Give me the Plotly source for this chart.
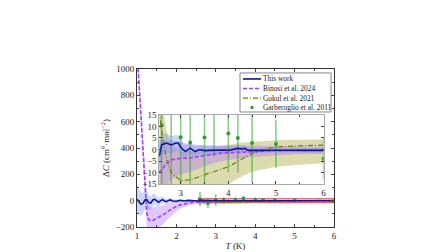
import plotly.graph_objects as go

# ---------------- data ----------------
# This work
tw_T = [1.0, 1.05, 1.1, 1.15, 1.2, 1.25, 1.3, 1.35, 1.4, 1.45, 1.5, 1.55, 1.6, 1.65, 1.7, 1.75, 1.8,
        1.85, 1.9, 2.0, 2.1, 2.2, 2.3, 2.4, 2.5, 2.55, 2.6, 2.7, 2.8, 2.9, 2.95, 3.0, 3.05, 3.1,
        3.2, 3.3, 3.4, 3.5, 3.6, 3.7, 3.8, 3.9, 4.0, 4.1, 4.2, 4.3, 4.35, 4.4, 4.5, 5.0, 5.5, 6.0]
tw_val = [10, -5, -28, -20, 5, 8, -15, -18, 5, 10, -5, -12, 0, 8, -3, -8, 2,
          6, -2, -4, 3, -2, 2, -1, 1, -3, 2, 2.8, 2.0, 2.8, 2.8, 1.0, -0.1, -0.9,
          0.6, -0.9, 0.0, -0.5, -0.4, -0.3, -0.5, -0.2, -0.4, 0.0, 0.5, 0.2, 0.5, -0.3, -0.4, -0.3, -0.4, -0.4]
tw_err = [110, 100, 90, 80, 70, 62, 55, 50, 45, 40, 35, 31, 28, 25, 22, 20, 18,
          16, 14, 11, 9.5, 8, 7, 6.5, 6, 5, 4.5, 4.2, 3.8, 3.5, 3.4, 3.2, 3.0, 2.8,
          2.5, 2.3, 2.1, 2.0, 1.9, 1.8, 1.7, 1.6, 1.5, 1.4, 1.4, 1.3, 1.3, 1.2, 1.2, 1.0, 0.95, 0.9]

# Binosi et al. 2024
bi_T = [1.0, 1.03, 1.06, 1.09, 1.13, 1.17, 1.21, 1.25, 1.3, 1.35, 1.4, 1.5, 1.6, 1.7, 1.8, 1.9,
        2.0, 2.1, 2.2, 2.3, 2.4, 2.5, 2.55, 2.6, 2.7, 2.8, 3.0, 3.2, 3.4, 3.6, 3.8, 4.0, 4.5, 5.0, 5.5, 6.0]
bi_val = [1050, 1000, 850, 690, 450, 250, 30, -100, -145, -155, -150, -134, -118, -100, -78, -58,
          -43, -32, -24, -18, -13, -10, -9.6, -9, -6, -4.5, -3.8, -3.7, -3.0, -2.3, -1.7, -1.4, -0.8, -0.5, -0.4, -0.3]
bi_err = [60, 65, 70, 75, 80, 90, 100, 105, 105, 105, 100, 90, 80, 68, 58, 48,
          38, 30, 24, 19, 16, 14, 13.5, 13, 10, 8.5, 7, 6, 5, 4.2, 3.6, 3.2, 2.5, 2.0, 1.7, 1.5]

# Gokul et al. 2021
go_T = [2.55, 2.6, 2.7, 2.8, 3.0, 3.2, 3.5, 4.0, 4.3, 4.5, 4.8, 5.0, 5.5, 6.0]
go_val = [17, 8, -4, -10, -13.5, -13.2, -11, -7.5, -4, -1.7, 0.3, 1.1, 1.6, 1.9]
go_hi = [30, 22, 8, 2, -1, -1, 0, 2, 3, 3.3, 3.8, 4.0, 4.2, 4.3]
go_lo = [-30, -30, -30, -30, -30, -28, -24, -15, -11.5, -9.7, -8.2, -7.5, -6.6, -6.0]

# Garberoglio et al. 2011
ga_T = [2.6, 2.8, 3.0, 3.2, 3.5, 3.7, 4.0, 4.2, 4.5, 5.0, 6.0]
ga_val = [10.5, -17, 5.3, 3.0, 5.2, 17, 7.0, 5.0, 2.8, 2.4, -4.0]
ga_err = [55, 38, 45, 25, 25, 20, 17, 15, 17, 10.5, 9]

# legend labels
names = ["This work", "Binosi et al. 2024", "Gokul et al. 2021", "Garberoglio et al. 2011"]

BLUE = "#14148f"
PURPLE = "#a040ff"
OLIVE = "#7a7a00"
GREEN = "#2ea02e"
DASH = "4px,2px"
DASHDOT = "5px,2px,1px,2px"

FONT = "Liberation Serif"

fig = go.Figure()


def band(T, lo, hi, color, xa, ya):
    fig.add_trace(go.Scatter(x=T, y=hi, mode="lines", line=dict(width=0), showlegend=False,
                             hoverinfo="skip", xaxis=xa, yaxis=ya))
    fig.add_trace(go.Scatter(x=T, y=lo, mode="lines", line=dict(width=0), fill="tonexty",
                             fillcolor=color, showlegend=False, hoverinfo="skip", xaxis=xa, yaxis=ya))


def all_traces(xa, ya):
    tw_lo = [v - e for v, e in zip(tw_val, tw_err)]
    tw_hi = [v + e for v, e in zip(tw_val, tw_err)]
    bi_lo = [v - e for v, e in zip(bi_val, bi_err)]
    bi_hi = [v + e for v, e in zip(bi_val, bi_err)]
    band(go_T, go_lo, go_hi, "rgba(160,160,40,0.38)", xa, ya)
    band(bi_T, bi_lo, bi_hi, "rgba(175,110,255,0.38)", xa, ya)
    band(tw_T, tw_lo, tw_hi, "rgba(110,140,255,0.35)", xa, ya)
    fig.add_trace(go.Scatter(x=ga_T, y=ga_val, mode="markers", name=names[3],
                             marker=dict(color=GREEN, size=4),
                             error_y=dict(type="data", array=ga_err, color="rgba(40,170,40,0.55)",
                                          thickness=1.6, width=0),
                             showlegend=False, xaxis=xa, yaxis=ya))
    fig.add_trace(go.Scatter(x=go_T, y=go_val, mode="lines", name=names[2],
                             line=dict(color=OLIVE, width=1.2, dash=DASHDOT),
                             showlegend=False, xaxis=xa, yaxis=ya))
    fig.add_trace(go.Scatter(x=bi_T, y=bi_val, mode="lines", name=names[1],
                             line=dict(color=PURPLE, width=1.6, dash=DASH),
                             showlegend=False, xaxis=xa, yaxis=ya))
    fig.add_trace(go.Scatter(x=tw_T, y=tw_val, mode="lines", name=names[0],
                             line=dict(color=BLUE, width=1.6),
                             showlegend=False, xaxis=xa, yaxis=ya))


all_traces("x", "y")
all_traces("x2", "y2")

INSET_X = [2.55, 6.0]
INSET_Y = [-15, 15]

# zoom-region marker on the main axes
fig.add_shape(type="rect", xref="x", yref="y", x0=INSET_X[0], x1=INSET_X[1], y0=INSET_Y[0], y1=INSET_Y[1],
              line=dict(color="rgba(240,60,60,0.9)", width=1), fillcolor="rgba(255,120,120,0.35)", layer="below")

# ---- custom compact legend (paper coordinates) ----
LX0, LX1, LY1, LY0 = 0.523, 0.985, 0.975, 0.728
fig.add_shape(type="rect", xref="paper", yref="paper", x0=LX0, x1=LX1, y0=LY0, y1=LY1,
              line=dict(color="#888", width=1), fillcolor="white", layer="above")
rows = [0.937, 0.877, 0.816, 0.756]
styles = [(BLUE, "solid", 1.6), (PURPLE, DASH, 1.6), (OLIVE, DASHDOT, 1.2)]
for i, (c, d, w) in enumerate(styles):
    fig.add_shape(type="line", xref="paper", yref="paper", x0=0.538, x1=0.630, y0=rows[i], y1=rows[i],
                  line=dict(color=c, width=w, dash=d), layer="above")
fig.add_shape(type="circle", xref="paper", yref="paper", x0=0.575, x1=0.593,
              y0=rows[3] - 0.0115, y1=rows[3] + 0.0115, line=dict(width=0), fillcolor=GREEN, layer="above")
for i, n in enumerate(names):
    fig.add_annotation(xref="paper", yref="paper", x=0.633, y=rows[i], text=n, showarrow=False,
                       xanchor="left", yanchor="middle", borderpad=0,
                       font=dict(family=FONT, size=7.4, color="#222"))

axfont = dict(family=FONT, size=9, color="#222")
fig.update_layout(
    template="none",
    width=448, height=252, autosize=False,
    margin=dict(l=137, r=114, t=69, b=25, autoexpand=False),
    paper_bgcolor="white", plot_bgcolor="white",
    font=dict(family=FONT, size=9, color="#222"),
    xaxis=dict(domain=[0, 1], range=[1, 6], tickvals=[1, 2, 3, 4, 5, 6], ticks="inside", ticklen=3,
               minor=dict(dtick=0.5, ticks="inside", ticklen=2), showgrid=False, zeroline=False,
               showline=True, linecolor="#333", linewidth=1, mirror="ticks", tickfont=axfont,
               automargin=False,
               title=dict(text="<i>T</i> (K)", font=dict(family=FONT, size=9), standoff=2)),
    yaxis=dict(domain=[0, 1], range=[-200, 1000], dtick=200, ticks="inside", ticklen=3,
               minor=dict(dtick=100, ticks="inside", ticklen=2), showgrid=False, zeroline=False,
               showline=True, linecolor="#333", linewidth=1, mirror="ticks", tickfont=axfont,
               automargin=False,
               title=dict(text="Δ<i>C</i> (cm<sup>6</sup>·mol<sup>−2</sup>)", font=dict(family=FONT, size=9),
                          standoff=4)),
    xaxis2=dict(domain=[0.113, 0.947], range=INSET_X, anchor="y2", tickvals=[3, 4, 5, 6],
                ticks="inside", ticklen=3, minor=dict(dtick=0.5, ticks="inside", ticklen=2),
                showgrid=False, zeroline=False, showline=True, linecolor="#aaa", linewidth=1,
                mirror="ticks", tickfont=axfont, automargin=False),
    yaxis2=dict(domain=[0.272, 0.709], range=INSET_Y, anchor="x2", dtick=5, ticks="inside",
                ticklen=3, showgrid=False, zeroline=False, showline=True, linecolor="#aaa",
                linewidth=1, mirror="ticks", tickfont=axfont, automargin=False),
    showlegend=False,
)

fig.write_html("out.html", config={"displayModeBar": False, "staticPlot": True},
               post_script="document.body.style.margin='0';document.body.style.overflow='hidden';")
